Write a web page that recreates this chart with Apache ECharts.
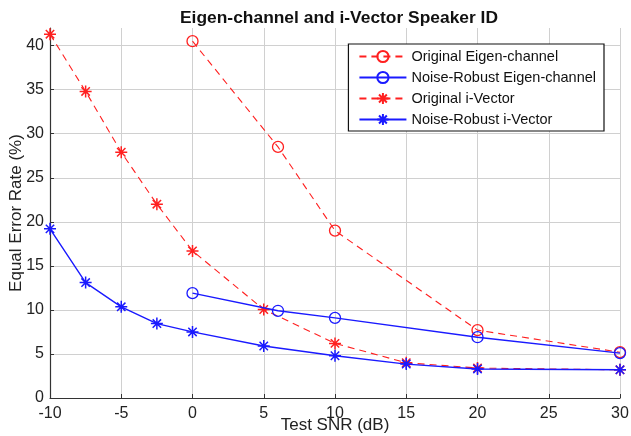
<!DOCTYPE html>
<html>
<head>
<meta charset="utf-8">
<script src="https://cdn.jsdelivr.net/npm/echarts@6/dist/echarts.min.js"></script>
<style>html,body{margin:0;padding:0;background:#fff}#c{width:631px;height:436px}</style>
</head>
<body>
<div id="c"></div>
<script>
const titleText = 'Eigen-channel and i-Vector Speaker ID';
const xName = 'Test SNR (dB)';
const yName = 'Equal Error Rate (%)';
const seriesNames = ['Original Eigen-channel', 'Noise-Robust Eigen-channel', 'Original i-Vector', 'Noise-Robust i-Vector'];
const eigenSNR = [0, 6, 10, 20, 30];
const origEigen = [40.5, 28.5, 19.0, 7.7, 5.2];
const robustEigen = [11.9, 9.9, 9.1, 6.9, 5.1];
const ivecSNR = [-10, -7.5, -5, -2.5, 0, 5, 10, 15, 20, 30];
const origIvec = [41.3, 34.8, 27.9, 22.0, 16.7, 10.05, 6.2, 4.0, 3.4, 3.2];
const robustIvec = [19.2, 13.1, 10.35, 8.45, 7.5, 5.9, 4.8, 3.85, 3.3, 3.2];

const star = 'path://M0,-10L0,10M-10,0L10,0M-7,-7L7,7M-7,7L7,-7';
const FONT = 'Liberation Sans';
function pairs(xs, ys){ return xs.map((x,i)=>[x, ys[i]]); }
function mk(name, xs, ys, color, dashed, sym){
  const isStar = sym === 'star';
  return {
    name, type:'line', data: pairs(xs, ys),
    symbol: isStar ? star : 'circle',
    symbolSize: isStar ? 12 : 11,
    showAllSymbol: true,
    color,
    lineStyle:{color, width: dashed?1.1:1.4, type: dashed?[7,5]:'solid'},
    itemStyle:{color: isStar ? color : 'rgba(255,255,255,0)', borderColor:color, borderWidth: isStar?1.5:1.3},
    emphasis:{disabled:true},
    animation:false, z: dashed?2:3
  };
}
const chart = echarts.init(document.getElementById('c'));
chart.setOption({
  backgroundColor:'#fff',
  animation:false,
  title:{text:titleText, left:334, top:5, textAlign:'center',
    textStyle:{fontFamily:FONT, fontWeight:'bold', fontSize:17.4, color:'#111'}},
  grid:{left:50, right:11, top:28, bottom:38, containLabel:false, outerBoundsMode:'none'},
  legend:{
    orient:'vertical', right:27, top:44,
    backgroundColor:'#fff', borderColor:'#111', borderWidth:1.2,
    padding:[5,8,4,10], itemGap:6, itemWidth:47, itemHeight:14,
    textStyle:{fontFamily:FONT, fontSize:14.5, color:'#111'},
    data: seriesNames
  },
  xAxis:{type:'value', min:-10, max:30, interval:5,
    name:xName, nameLocation:'middle', nameGap:19, nameMoveOverlap:false,
    nameTextStyle:{fontFamily:FONT, fontSize:17, color:'#222'},
    axisLine:{onZero:false, lineStyle:{color:'#333', width:1.2}},
    axisTick:{inside:true, length:4, lineStyle:{color:'#333'}},
    axisLabel:{fontFamily:FONT, fontSize:16, color:'#222', margin:8},
    splitLine:{lineStyle:{color:'#d0d0d0', width:1}}},
  yAxis:{type:'value', min:0, max:42, interval:5,
    name:yName, nameLocation:'middle', nameGap:25, nameMoveOverlap:false,
    nameTextStyle:{fontFamily:FONT, fontSize:17, color:'#222'},
    axisLine:{show:true, onZero:false, lineStyle:{color:'#333', width:1.2}},
    axisTick:{show:true, inside:true, length:4, lineStyle:{color:'#333'}},
    axisLabel:{fontFamily:FONT, fontSize:16, color:'#222', margin:6, showMaxLabel:false},
    splitLine:{showMaxLine:false, lineStyle:{color:'#d0d0d0', width:1}}},
  series:[
    mk(seriesNames[0], eigenSNR, origEigen, '#ff2020', true, 'circle'),
    mk(seriesNames[1], eigenSNR, robustEigen, '#1a1aff', false, 'circle'),
    mk(seriesNames[2], ivecSNR, origIvec, '#ff2020', true, 'star'),
    mk(seriesNames[3], ivecSNR, robustIvec, '#1a1aff', false, 'star')
  ]
});
</script>
</body>
</html>
